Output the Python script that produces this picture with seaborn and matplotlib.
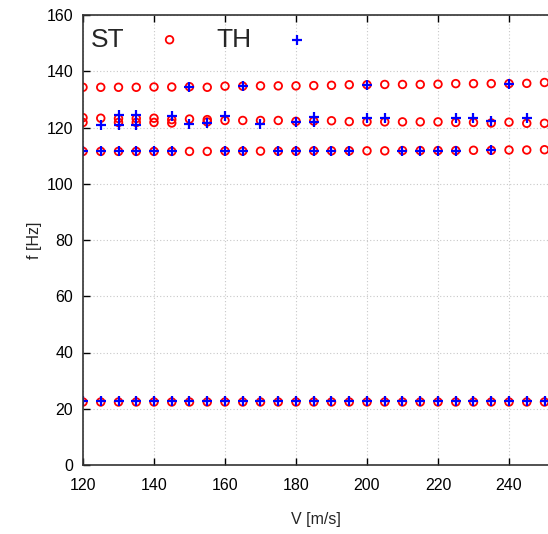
import matplotlib
matplotlib.use("Agg")
import matplotlib.pyplot as plt
import seaborn as sns
import pandas as pd

# speed values (m/s) and frequencies (Hz)
# ST: structural model, TH: theoretical
st_v = [120, 125, 130, 135, 140, 145, 150, 155, 160, 165, 170, 175, 180, 185,
        190, 195, 200, 205, 210, 215, 220, 225, 230, 235, 240, 245, 250]
st_f1 = [22.4] * len(st_v)
st_f2 = [111.5, 111.5, 111.5, 111.5, 111.5, 111.5, 111.5, 111.5, 111.6, 111.6, 111.6, 111.6, 111.6, 111.7,
         111.7, 111.7, 111.7, 111.7, 111.8, 111.8, 111.8, 111.8, 111.9, 111.9, 112.0, 112.0, 112.1]
st_f3 = [123.5, 123.3, 123.2, 123.2, 123.3, 122.8, 123.0, 122.8, 122.5, 122.5, 122.5, 122.5, 122.2, 122.3,
         122.4, 122.1, 122.0, 122.0, 122.0, 122.0, 122.0, 121.8, 121.8, 121.6, 121.9, 121.5, 121.5]
st_f4_v = [120, 130, 135, 140, 145, 155]
st_f4 = [121.8, 121.8, 121.8, 121.8, 121.6, 122.0]
st_f5 = [134.3, 134.3, 134.3, 134.3, 134.4, 134.4, 134.5, 134.3, 134.7, 134.7, 134.8, 134.8, 134.8, 134.9,
         135.0, 135.2, 135.2, 135.3, 135.3, 135.3, 135.4, 135.6, 135.6, 135.6, 135.6, 135.7, 136.0]

th_f1_v = st_v
th_f1 = [22.8] * len(st_v)
th_f2_v = [120, 125, 130, 135, 140, 145, 160, 165, 175, 180, 185, 190, 195, 210, 215, 220, 225, 235]
th_f2 = [111.5, 111.5, 111.5, 111.5, 111.5, 111.5, 111.6, 111.6, 111.6, 111.6, 111.7, 111.7, 111.7,
         111.8, 111.8, 111.8, 111.8, 111.9]
th_f3_v = [125, 130, 130, 135, 135, 145, 150, 155, 160, 170, 180, 185, 185, 200, 205, 225, 230, 235, 245]
th_f3 = [121.0, 124.3, 121.0, 124.5, 121.0, 124.0, 121.4, 121.5, 124.2, 121.3, 122.0, 123.8, 122.0,
         123.5, 123.5, 123.5, 123.5, 122.3, 123.5]
th_f4_v = [150, 165, 200, 240]
th_f4 = [134.5, 134.7, 135.2, 135.6]

st = pd.DataFrame({
    "V": st_v * 3 + st_f4_v + st_v,
    "f": st_f1 + st_f2 + st_f3 + st_f4 + st_f5,
})
th = pd.DataFrame({
    "V": th_f1_v + th_f2_v + th_f3_v + th_f4_v,
    "f": th_f1 + th_f2 + th_f3 + th_f4,
})

sns.set_style("white")
plt.rcParams["font.family"] = ["Liberation Sans", "DejaVu Sans"]

fig = plt.figure(figsize=(5.48, 5.34), dpi=100)
ax = fig.add_axes([83 / 548, 69 / 534, 465 / 548, 450 / 534])

sns.scatterplot(data=st, x="V", y="f", ax=ax, marker="o", s=30,
                facecolors="none", edgecolor="red", linewidth=1.3, label="ST")
sns.scatterplot(data=th, x="V", y="f", ax=ax, marker="+", s=50,
                color="blue", linewidth=1.6, label="TH")

ax.set_xlim(120, 120 + 465 / 3.55)
ax.set_ylim(0, 160)
ax.set_xticks(range(120, 241, 20))
ax.set_yticks(range(0, 161, 20))
ax.grid(True, color="#c8c8c8", linestyle=(0, (1, 2)), linewidth=0.8)
ax.tick_params(direction="in", length=5, width=1, labelsize=11.5, colors="black",
               top=True, bottom=True, left=True, right=False)
ax.tick_params(axis="x", pad=9)
ax.tick_params(axis="y", pad=7)
for side in ["left", "bottom", "top"]:
    ax.spines[side].set_color("#333333")
    ax.spines[side].set_linewidth(1.2)
ax.spines["right"].set_visible(False)

ax.set_xlabel("V [m/s]", fontsize=11.5, labelpad=14)
ax.set_ylabel("f [Hz]", fontsize=11.5, labelpad=3)

ax.legend(loc="upper left", bbox_to_anchor=(-0.011, 1.0), ncol=2, frameon=False,
          markerfirst=False, fontsize=19, handletextpad=1.22, columnspacing=1.28,
          borderaxespad=0.1, borderpad=0.38, handlelength=1.0)

fig.savefig("out.png", dpi=100)
